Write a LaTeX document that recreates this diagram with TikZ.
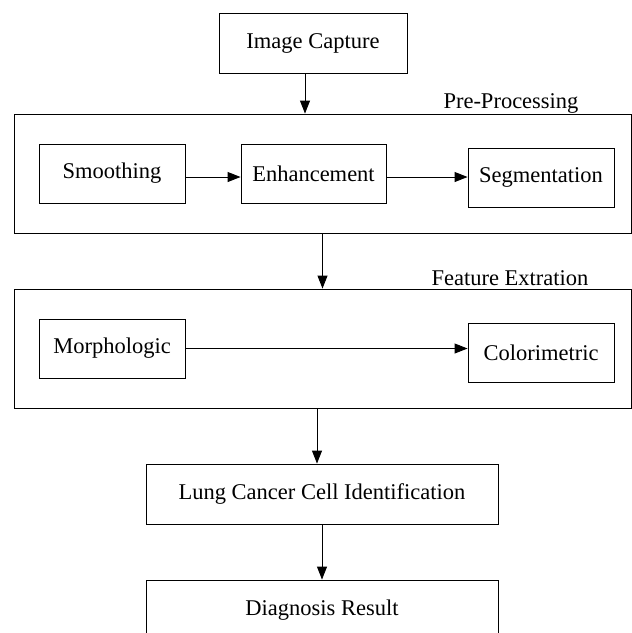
\documentclass[tikz,border=0pt]{standalone}
\usepackage{fontspec}
\setmainfont{Liberation Serif}
\usepackage{tikz}
\usetikzlibrary{arrows.meta,arrows}
\tikzset{
  block/.style={draw, line width=0.9pt, inner sep=0pt, minimum height=59pt,
                font=\fontsize{22.5}{27}\selectfont},
  stage/.style={draw, line width=0.9pt, inner sep=0pt,
                minimum width=617pt, minimum height=119pt},
  stagelabel/.style={inner sep=0pt, font=\fontsize{22.5}{27}\selectfont},
  flow/.style={line width=0.9pt, -{Triangle[length=13pt,width=10pt]}}
}

\begin{document}
\begin{tikzpicture}[x=1pt,y=-1pt]
    \useasboundingbox (0,0) rectangle (632,633);
    \clip (0,0) rectangle (632,633);
    % Input
    \node[block, minimum width=188pt, minimum height=60pt] (cap) at (313, 43) {Image Capture};
    % Pre-Processing Stage
    \node[stage] (pre) at (322.5, 173.5) {};
    \node[stagelabel] (prelabel) at (511, 103) {Pre-Processing};
       \node[block, minimum width=146pt] (smooth) at (112, 173.5) {Smoothing};
       \node[block, minimum width=145pt] (enh) at (313.5, 173.5) {Enhancement};
       \node[block, minimum width=146pt] (seg) at (541, 177.5) {Segmentation};
    % Feature Extraction Stage
    \node[stage] (feat) at (322.5, 348.5) {};
    \node[stagelabel] (featlabel) at (510, 278) {Feature Extration};
       \node[block, minimum width=146pt] (morph) at (112, 348.5) {Morphologic};
       \node[block, minimum width=146pt] (color) at (541, 352.5) {Colorimetric};
    % Output
    \node[block, minimum width=352pt, minimum height=60pt] (lung) at (322, 494) {Lung Cancer Cell Identification};
    \node[block, minimum width=352pt, minimum height=60pt] (diag) at (322, 610) {Diagnosis Result};
       %
       % Flow Between Stages:
       \draw[flow] ([xshift=-8pt]cap.south) -- ([xshift=-8pt]cap.south |- pre.north);
       \draw[flow] (pre.south) -- (feat.north);
       \draw[flow] ([xshift=-5.5pt]feat.south) -- ([xshift=-5.5pt]feat.south |- lung.north);
       \draw[flow] (lung.south) -- (diag.north);
       % Flow Inside the Stages:
       \draw[flow] ([yshift=-3.5pt]smooth.east) -- ([yshift=-3.5pt]enh.west);
       \draw[flow] ([yshift=-3.5pt]enh.east) -- ([yshift=-3.5pt]enh.east -| seg.west);
       \draw[flow] (morph.east) -- (morph.east -| color.west);
\end{tikzpicture}
\end{document}
